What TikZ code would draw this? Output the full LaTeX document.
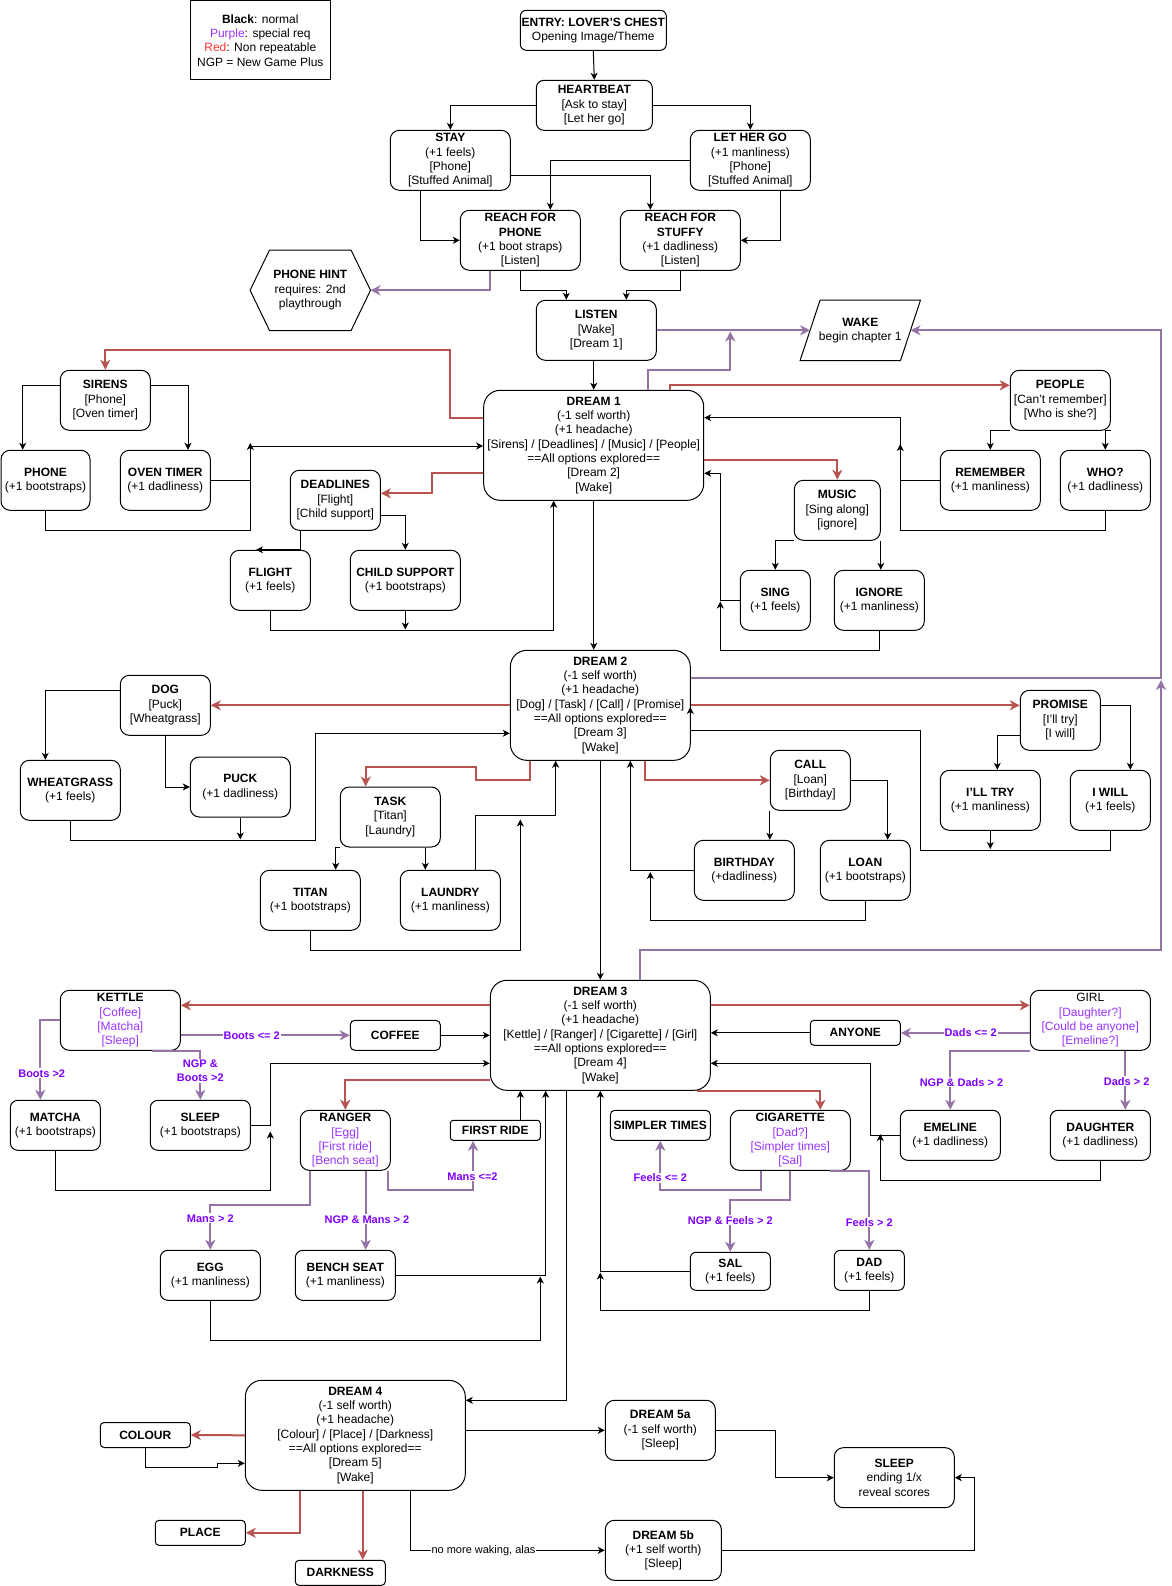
\documentclass[tikz,border=0pt]{standalone}
\usepackage{fontspec}
\setmainfont{Liberation Sans}
\usetikzlibrary{arrows.meta,calc}
\definecolor{lr}{HTML}{B85450}
\definecolor{lp}{HTML}{9673A6}
\definecolor{tp}{HTML}{9933FF}
\definecolor{tl}{HTML}{7F00FF}
\definecolor{tr}{HTML}{FF3333}
\newcommand\myfs{\fontsize{12}{14.3}\selectfont}
\newcommand\myls{\fontsize{11}{14}\selectfont}
\newcommand\mkbox[7]{\node[nd,rounded corners=#1pt,minimum width=#4pt,minimum height=#5pt,#6] (#2) at (#3) {#7};}
\begin{document}
\begin{tikzpicture}[x=1pt,y=-1pt,
  nd/.style={draw, line width=1pt, align=center, inner sep=0pt, font=\myfs},
  ar/.style={line width=1pt, -{Stealth[length=7pt,width=7pt,inset=2pt]}},
  rd/.style={draw=lr, line width=2pt, -{Stealth[length=10pt,width=10pt,inset=3pt]}},
  pu/.style={draw=lp, line width=2pt, -{Stealth[length=10pt,width=10pt,inset=3pt]}},
  lab/.style={fill=white, inner sep=1pt, align=center, font=\bfseries\myls, text=tl}]
\fill[white] (0,0) rectangle (1171,1586);
\useasboundingbox (0,0) rectangle (1171,1586);

% legend
\node[draw, line width=1pt, minimum width=140pt, minimum height=79pt, align=center, inner sep=0pt, font=\myfs] (legend) at (260.3,40.5)
 {\textbf{Black}: normal\\\textcolor{tp}{Purple}: special req\\\textcolor{tr}{Red}: Non repeatable\\NGP = New Game Plus};

% nodes
\mkbox{6}{entry}{593.3,30.3}{146}{40}{}{\textbf{ENTRY: LOVER'S CHEST}\\Opening Image/Theme}
\mkbox{7.5}{heartbeat}{594.3,105.3}{116}{50}{}{\textbf{HEARTBEAT}\\{}[Ask to stay]\\{}[Let her go]}
\mkbox{9}{stay}{450.3,160.3}{120}{60}{}{\textbf{STAY}\\(+1 feels)\\{}[Phone]\\{}[Stuffed Animal]}
\mkbox{9}{lethergo}{750.3,160.3}{120}{60}{}{\textbf{LET HER GO}\\(+1 manliness)\\{}[Phone]\\{}[Stuffed Animal]}
\mkbox{9}{reachphone}{520.3,240.3}{120}{60}{}{\textbf{REACH FOR}\\\textbf{PHONE}\\(+1 boot straps)\\{}[Listen]}
\mkbox{9}{reachstuffy}{680.3,240.3}{120}{60}{}{\textbf{REACH FOR}\\\textbf{STUFFY}\\(+1 dadliness)\\{}[Listen]}
\node[font=\myfs, align=center, inner sep=0pt, minimum width=120pt, minimum height=80pt] (phonehint) at (310.3,290.3) {\textbf{PHONE HINT}\\requires: 2nd\\playthrough};
\draw[line width=1pt] (phonehint.west) -- ($(phonehint.north west)+(19.4,0)$) -- ($(phonehint.north east)+(-19.4,0)$) -- (phonehint.east) -- ($(phonehint.south east)+(-19.4,0)$) -- ($(phonehint.south west)+(19.4,0)$) -- cycle;
\mkbox{9}{listen}{596.3,330.3}{120}{60}{}{\textbf{LISTEN}\\{}[Wake]\\{}[Dream 1]}
\node[font=\myfs, align=center, inner sep=0pt, minimum width=120pt, minimum height=60pt] (wake) at (860.3,330.3) {\textbf{WAKE}\\begin chapter 1};
\draw[line width=1pt] ($(wake.north west)+(20,0)$) -- (wake.north east) -- ($(wake.south east)+(-20,0)$) -- (wake.south west) -- cycle;
\coordinate (wakeW) at ($(wake.west)+(10,0)$);
\coordinate (wakeE) at ($(wake.east)+(-10,0)$);
\mkbox{16.5}{dream1}{593.7,445.3}{220}{110}{}{\textbf{DREAM 1}\\(-1 self worth)\\(+1 headache)\\{}[Sirens] / [Deadlines] / [Music] / [People]\\==All options explored==\\{}[Dream 2]\\{}[Wake]}
\mkbox{9}{sirens}{105.3,400.3}{90}{60}{}{\textbf{SIRENS}\\{}[Phone]\\{}[Oven timer]}
\mkbox{9}{phone}{45.5,480.3}{89}{60}{}{\textbf{PHONE}\\(+1 bootstraps)}
\mkbox{9}{oventimer}{165.3,480.3}{90}{60}{}{\textbf{OVEN TIMER}\\(+1 dadliness)}
\mkbox{9}{deadlines}{335.3,500.3}{90}{60}{}{\textbf{DEADLINES}\\{}[Flight]\\{}[Child support]}
\mkbox{9}{flight}{270.3,580.3}{80}{60}{}{\textbf{FLIGHT}\\(+1 feels)}
\mkbox{9}{childsupport}{405.3,580.3}{110}{60}{}{\textbf{CHILD SUPPORT}\\(+1 bootstraps)}
\mkbox{9}{people}{1060.3,400.3}{100}{60}{}{\textbf{PEOPLE}\\{}[Can't remember]\\{}[Who is she?]}
\mkbox{9}{remember}{990.3,480.3}{100}{60}{}{\textbf{REMEMBER}\\(+1 manliness)}
\mkbox{9}{who}{1105.3,480.3}{90}{60}{}{\textbf{WHO?}\\(+1 dadliness)}
\mkbox{9}{music}{837.3,510.3}{86}{60}{}{\textbf{MUSIC}\\{}[Sing along]\\{}[ignore]}
\mkbox{9}{sing}{775.3,600.3}{70}{60}{}{\textbf{SING}\\(+1 feels)}
\mkbox{9}{ignore}{879.3,600.3}{90}{60}{}{\textbf{IGNORE}\\(+1 manliness)}
\mkbox{16.5}{dream2}{600.3,705.3}{180}{110}{}{\textbf{DREAM 2}\\(-1 self worth)\\(+1 headache)\\{}[Dog] / [Task] / [Call] / [Promise]\\==All options explored==\\{}[Dream 3]\\{}[Wake]}
\mkbox{9}{dog}{165.3,705.3}{90}{60}{}{\textbf{DOG}\\{}[Puck]\\{}[Wheatgrass]}
\mkbox{9}{wheatgrass}{70.3,790.3}{100}{60}{}{\textbf{WHEATGRASS}\\(+1 feels)}
\mkbox{9}{puck}{240.3,787}{100}{60}{}{\textbf{PUCK}\\(+1 dadliness)}
\mkbox{9}{task}{390.3,817}{100}{60}{}{\textbf{TASK}\\{}[Titan]\\{}[Laundry]}
\mkbox{9}{titan}{310.3,900.3}{100}{60}{}{\textbf{TITAN}\\(+1 bootstraps)}
\mkbox{9}{laundry}{450.3,900.3}{100}{60}{}{\textbf{LAUNDRY}\\(+1 manliness)}
\mkbox{9}{call}{810.3,780.3}{80}{60}{}{\textbf{CALL}\\{}[Loan]\\{}[Birthday]}
\mkbox{9}{birthday}{744.3,870.3}{100}{60}{}{\textbf{BIRTHDAY}\\(+dadliness)}
\mkbox{9}{loan}{865.3,870.3}{90}{60}{}{\textbf{LOAN}\\(+1 bootstraps)}
\mkbox{9}{promise}{1060.3,720.3}{80}{60}{}{\textbf{PROMISE}\\{}[I'll try]\\{}[I will]}
\mkbox{9}{illtry}{990.3,800.3}{100}{60}{}{\textbf{I'LL TRY}\\(+1 manliness)}
\mkbox{9}{iwill}{1110.3,800.3}{80}{60}{}{\textbf{I WILL}\\(+1 feels)}
\mkbox{16.5}{dream3}{600.3,1035.3}{220}{110}{}{\textbf{DREAM 3}\\(-1 self worth)\\(+1 headache)\\{}[Kettle] / [Ranger] / [Cigarette] / [Girl]\\==All options explored==\\{}[Dream 4]\\{}[Wake]}
\mkbox{9}{kettle}{120.3,1020.3}{120}{60}{}{\textbf{KETTLE}\\\textcolor{tp}{[Coffee]}\\\textcolor{tp}{[Matcha]}\\\textcolor{tp}{[Sleep]}}
\mkbox{4.5}{coffee}{395.3,1035.3}{90}{30}{}{\textbf{COFFEE}}
\mkbox{7.5}{matcha}{55.3,1125.3}{90}{50}{}{\textbf{MATCHA}\\(+1 bootstraps)}
\mkbox{7.5}{sleepa}{200.3,1125.3}{100}{50}{}{\textbf{SLEEP}\\(+1 bootstraps)}
\mkbox{9}{ranger}{345.3,1140.3}{90}{60}{}{\textbf{RANGER}\\\textcolor{tp}{[Egg]}\\\textcolor{tp}{[First ride]}\\\textcolor{tp}{[Bench seat]}}
\mkbox{3}{firstride}{495.3,1130.3}{90}{20}{}{\textbf{FIRST RIDE}}
\mkbox{7.5}{egg}{210.3,1275.3}{100}{50}{}{\textbf{EGG}\\(+1 manliness)}
\mkbox{7.5}{benchseat}{345.3,1275.3}{100}{50}{}{\textbf{BENCH SEAT}\\(+1 manliness)}
\mkbox{9}{cigarette}{790.3,1140.3}{120}{60}{}{\textbf{CIGARETTE}\\\textcolor{tp}{[Dad?]}\\\textcolor{tp}{[Simpler times]}\\\textcolor{tp}{[Sal]}}
\mkbox{4.5}{simpler}{660.3,1125.3}{100}{30}{}{\textbf{SIMPLER TIMES}}
\mkbox{5.7}{sal}{730.3,1271.3}{80}{38}{}{\textbf{SAL}\\(+1 feels)}
\mkbox{6}{dad}{869.3,1270.3}{70}{40}{}{\textbf{DAD}\\(+1 feels)}
\mkbox{9}{girl}{1090.3,1020.3}{120}{60}{}{GIRL\\\textcolor{tp}{[Daughter?]}\\\textcolor{tp}{[Could be anyone]}\\\textcolor{tp}{[Emeline?]}}
\mkbox{3.75}{anyone}{855.3,1032.8}{90}{25}{}{\textbf{ANYONE}}
\mkbox{7.5}{emeline}{950.3,1135.3}{100}{50}{}{\textbf{EMELINE}\\(+1 dadliness)}
\mkbox{7.5}{daughter}{1100.3,1135.3}{100}{50}{}{\textbf{DAUGHTER}\\(+1 dadliness)}
\mkbox{16.5}{dream4}{355.3,1435.3}{220}{110}{}{\textbf{DREAM 4}\\(-1 self worth)\\(+1 headache)\\{}[Colour] / [Place] / [Darkness]\\==All options explored==\\{}[Dream 5]\\{}[Wake]}
\mkbox{3.75}{colour}{145.3,1435}{90}{25}{}{\textbf{COLOUR}}
\mkbox{3.75}{place}{200.3,1532.8}{90}{25}{}{\textbf{PLACE}}
\mkbox{3.75}{darkness}{340.3,1572.8}{90}{25}{}{\textbf{DARKNESS}}
\mkbox{9}{dreamfa}{660.3,1430.3}{110}{60}{}{\textbf{DREAM 5a}\\(-1 self worth)\\{}[Sleep]}
\mkbox{9}{dreamfb}{663.3,1550.3}{116}{60}{}{\textbf{DREAM 5b}\\(+1 self worth)\\{}[Sleep]}
\mkbox{9}{sleepend}{894.3,1477.7}{120}{60}{}{\textbf{SLEEP}\\ending 1/x\\reveal scores}

% free ends
\coordinate (j1) at (730.3,331.5);
\coordinate (j2) at (250.3,443);

% connectors: top
\draw[ar] (entry.south) -- (heartbeat.north);
\draw[ar] (heartbeat.west) -| (stay.north);
\draw[ar] (heartbeat.east) -| (lethergo.north);
\draw[ar] (420.3,0 |- stay.south) |- (reachphone.west);
\draw[ar] (stay.east |- 0,175.3) -| (650.3,0 |- reachstuffy.north);
\draw[ar] (lethergo.west) -| (550.3,0 |- reachphone.north);
\draw[ar] (780.3,0 |- lethergo.south) |- (reachstuffy.east);
\draw[ar] (reachphone.south) |- (566.3,290.3) -- (566.3,0 |- listen.north);
\draw[ar] (reachstuffy.south) |- (626.3,290.3) -- (626.3,0 |- listen.north);
\draw[pu] (490.3,0 |- reachphone.south) |- (phonehint.east);
\draw[ar] (listen.south -| dream1.north) -- (dream1.north);
\draw[pu] (listen.east) -- (wakeW);
\draw[pu] (648.3,0 |- dream1.north) |- (730.3,370.3) -- (j1);

% dream 1
\draw[rd] (dream1.west |- 0,417.7) -| (450.3,350.3) -| (sirens.north);
\draw[ar] (sirens.west |- 0,385.3) -| (22.7,0 |- phone.north);
\draw[ar] (sirens.east |- 0,385.3) -| (188,0 |- oventimer.north);
\draw[ar] (phone.south) |- (250.3,530.3) -- (j2);
\draw[ar] (oventimer.east) -| (250.3,446) -- (dream1.west |- 0,446);
\draw[rd] (dream1.west |- 0,473.3) -| (432.3,493.3) -- (deadlines.east |- 0,493.3);
\draw[ar] (300.3,0 |- deadlines.south) |- (256,0 |- flight.north);
\draw[ar] (deadlines.east |- 0,515.3) -| (childsupport.north);
\draw[ar] (flight.south) |- (553.7,630.3) -- (553.7,0 |- dream1.south);
\draw[ar] (childsupport.south) -- (405.3,629.5);
\draw[ar] (dream1.south) -- (dream1.south |- dream2.north);
\draw[rd] (670.3,0 |- dream1.north) |- (people.west |- 0,385.3);
\draw[ar] (people.south west) -| (remember.north);
\draw[ar] (people.south east) -| (who.north);
\draw[ar] (remember.west) -| (900.3,417.7) -- (dream1.east |- 0,417.7);
\draw[ar] (who.south) |- (900.3,530.3) -- (900.3,444);
\draw[rd] (dream1.east |- 0,460.3) -| (music.north);
\draw[ar] (music.south west) -| (sing.north);
\draw[ar] (music.south east) -- (music.south east |- ignore.north);
\draw[ar] (sing.west) -| (720.3,473.3) -- (dream1.east |- 0,473.3);
\draw[ar] (ignore.south) |- (720.3,650.3) -- (720.3,601.5);

% dream 2
\draw[rd] (dream2.west) -- (dog.east);
\draw[ar] (dog.west |- 0,690.3) -| (45.3,0 |- wheatgrass.north);
\draw[ar] (dog.south) |- (puck.west);
\draw[ar] (wheatgrass.south) |- (315.3,840.3) |- (dream2.west |- 0,733.3);
\draw[ar] (puck.south) -- (240.3,839.5);
\draw[rd] (530.3,0 |- dream2.south) |- (475.7,780.3) |- (365.7,767.3) -- (365.7,0 |- task.north);
\draw[ar] (task.south west) -| (335.7,0 |- titan.north);
\draw[ar] (425.3,0 |- task.south) -- (425.3,0 |- laundry.north);
\draw[ar] (475.7,0 |- laundry.north) |- (555.7,815.3) -- (555.7,0 |- dream2.south);
\draw[ar] (titan.south) |- (520.3,950.3) -- (520.3,819.5);
\draw[rd] (645.3,0 |- dream2.south) |- (call.west);
\draw[ar] (call.south west) -- (call.south west |- birthday.north);
\draw[ar] (call.east) -| (887.7,0 |- loan.north);
\draw[ar] (birthday.west) -| (630.3,0 |- dream2.south);
\draw[ar] (loan.south) |- (650.3,920.3) -- (650.3,872);
\draw[rd] (dream2.east) -- (promise.west |- dream2.east);
\draw[ar] (promise.west |- 0,735.3) -| (997.3,0 |- illtry.north);
\draw[ar] (promise.east |- 0,705.3) -| (1130.3,0 |- iwill.north);
\draw[ar] (illtry.south) -- (990.3,849);
\draw[ar] (iwill.south) |- (920.3,850.3) |- (690.3,730.3) -- (690.3,707);
\draw[ar] (dream2.south) -- (dream3.north);
\draw[pu] (dream2.east |- 0,677.7) -| (1161,330.3) -- (wakeE);
\draw[pu] (640.3,0 |- dream3.north) |- (1161,950.3) -- (1161,680);

% dream 3
\draw[rd] (dream3.west |- 0,1005.3) -- (kettle.east |- 0,1005.3);
\draw[pu] (kettle.east |- coffee.west) -- (coffee.west);
\draw[ar] (coffee.east) -- (dream3.west |- coffee.east);
\draw[pu] (kettle.west) -| (40.3,0 |- matcha.north);
\draw[pu] (151.7,0 |- kettle.south) -| (sleepa.north);
\draw[ar] (sleepa.east) -| (270.3,1063.3) -- (dream3.west |- 0,1063.3);
\draw[ar] (matcha.south) |- (270.3,1190.3) -- (270.3,1131.5);
\draw[rd] (dream3.west |- 0,1080.3) -| (ranger.north);
\draw[pu] (387.7,0 |- ranger.south) |- (473,1190.3) -- (473,0 |- firstride.south);
\draw[ar] (520.3,0 |- firstride.north) -- (520.3,0 |- dream3.south);
\draw[pu] (310.3,0 |- ranger.south) |- (210.3,1205.3) -- (egg.north);
\draw[pu] (365.7,0 |- ranger.south) -- (365.7,0 |- benchseat.north);
\draw[ar] (benchseat.east) -| (545.7,0 |- dream3.south);
\draw[ar] (egg.south) |- (540.3,1340.3) -- (540.3,1276.5);
\draw[ar] (566.7,0 |- dream3.south) |- (dream4.east |- 0,1400.3);
\draw[rd] (696.7,0 |- dream3.south) -| (820.3,0 |- cigarette.north);
\draw[pu] (761,0 |- cigarette.south) |- (660.3,1190.3) -- (simpler.south);
\draw[pu] (cigarette.south) |- (730.3,1200.3) -- (sal.north);
\draw[pu] (830.3,0 |- cigarette.south) -| (dad.north);
\draw[ar] (sal.west) -| (600.3,0 |- dream3.south);
\draw[ar] (dad.south) |- (600.3,1310.3) -- (600.3,1272.5);
\draw[rd] (dream3.east |- 0,1005.3) -- (girl.west |- 0,1005.3);
\draw[pu] (girl.west |- 0,1033) -- (anyone.east |- 0,1033);
\draw[ar] (anyone.west) -- (dream3.east |- anyone.west);
\draw[pu] (girl.south west) -| (emeline.north);
\draw[pu] (1125.3,0 |- girl.south) -- (1125.3,0 |- daughter.north);
\draw[ar] (emeline.west) -| (870.3,1063.3) -- (dream3.east |- 0,1063.3);
\draw[ar] (daughter.south) |- (880.3,1180.3) -- (880.3,1134);

% dream 4
\draw[rd] (dream4.west) -- (colour.east);
\draw[ar] (colour.south) |- (217.7,1467.7) -- (217.7,1463.3) -- (dream4.west |- 0,1463.3);
\draw[rd] (300.3,0 |- dream4.south) |- (place.east);
\draw[rd] (362.7,0 |- dream4.south) -- (362.7,0 |- darkness.north);
\draw[ar] (dream4.east |- dreamfa.west) -- (dreamfa.west);
\draw[ar] (410.3,0 |- dream4.south) |- (dreamfb.west);
\draw[ar] (dreamfa.east) -| (775.3,1477.7) -- (sleepend.west);
\draw[ar] (dreamfb.east) -| (974.3,1477.7) -- (sleepend.east);

% labels
\node[lab] (lb1) at (251.7,1035.3) {Boots <= 2};
\node[lab] (lb2) at (41.7,1073.3) {Boots >2};
\node[lab] (lb3) at (200.3,1071) {NGP \&\\Boots >2};
\node[lab] (lb4) at (472.5,1176.3) {Mans <=2};
\node[lab] (lb5) at (210.3,1218.3) {Mans > 2};
\node[lab] (lb6) at (367,1219.3) {NGP \& Mans > 2};
\node[lab] (lb7) at (660.3,1177.7) {Feels <= 2};
\node[lab] (lb8) at (730.3,1220.3) {NGP \& Feels > 2};
\node[lab] (lb9) at (869.3,1222.3) {Feels > 2};
\node[lab] (lb10) at (970.7,1032.8) {Dads <= 2};
\node[lab] (lb11) at (961.5,1082.3) {NGP \& Dads > 2};
\node[lab] (lb12) at (1126.7,1081.3) {Dads > 2};
\node[fill=white, inner sep=1pt, font=\myls] (lb13) at (483.5,1550.3) {no more waking, alas};
\end{tikzpicture}
\end{document}
